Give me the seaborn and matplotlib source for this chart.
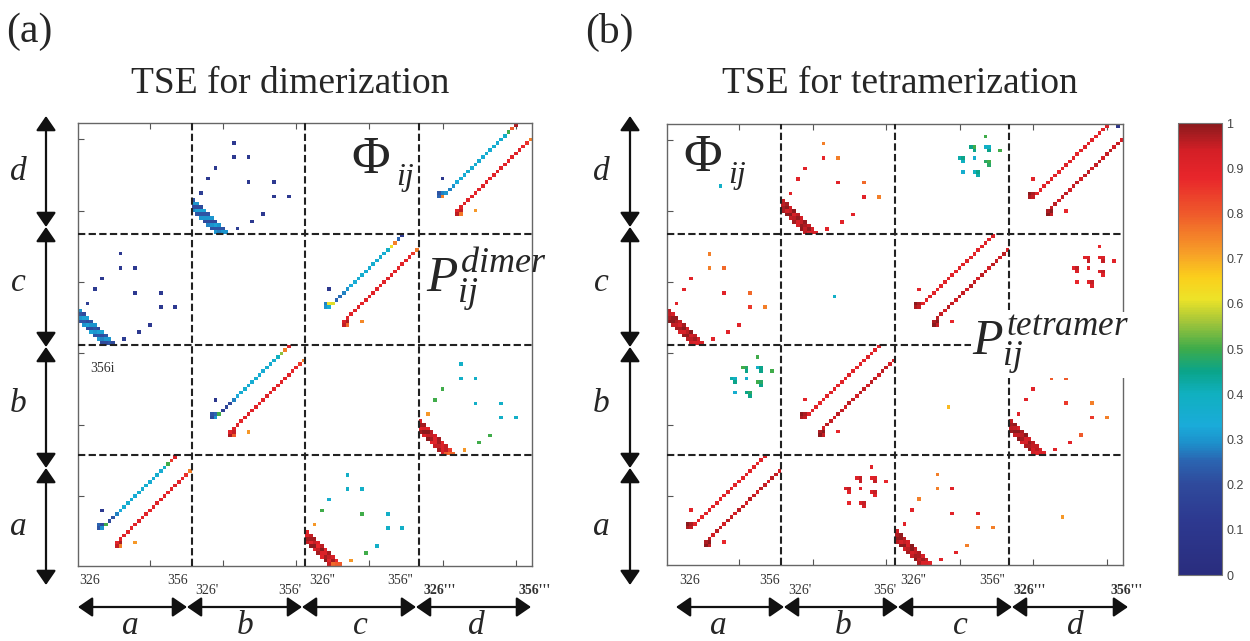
import numpy as np
import matplotlib
matplotlib.use("Agg")
import matplotlib.pyplot as plt
import seaborn as sns
from matplotlib.colors import LinearSegmentedColormap
from matplotlib.patches import FancyArrowPatch

# ---------------------------------------------------------------- data
CHAINS = ["a", "b", "c", "d"]
N_RES = 31                                   # residues 326 ... 356 per chain
AXIS_TICKS = [20, 40, 60, 80, 100, 120]
CBAR_TICKS = [0.0, 0.1, 0.2, 0.3, 0.4, 0.5, 0.6, 0.7, 0.8, 0.9, 1.0]
CBAR_LABELS = ["0", "0.1", "0.2", "0.3", "0.4", "0.5", "0.6", "0.7", "0.8", "0.9", "1"]
RES_LABELS_A = ["326", "356", "326'", "356'", "326''", "356''", "326'''", "356'''"]

# intra-chain helix contacts (local residue numbers 1..31); upper = Phi side
HELIX_UP_I = [6, 7, 6, 7] + list(range(8, 28)) + [7]
HELIX_UP_J = [11, 11, 12, 12] + list(range(12, 32)) + [16]
HELIX_LO_I = HELIX_UP_J
HELIX_LO_J = HELIX_UP_I

# primary-dimer interface: beta staircase + scattered helix contacts
STAIR_I = [1, 2, 3, 4, 5, 6, 7, 1, 2, 3, 4, 5, 6, 7, 8,
           1, 2, 3, 4, 5, 6, 7, 8, 9, 1, 2, 3, 4, 5, 6, 7, 8, 9, 10]
STAIR_J = [7, 6, 5, 4, 3, 2, 1, 8, 7, 6, 5, 4, 3, 2, 1,
           9, 8, 7, 6, 5, 4, 3, 2, 1, 10, 9, 8, 7, 6, 5, 4, 3, 2, 1]
DIMER_DOT_I = [12, 12, 16, 7, 5, 16, 23, 3, 23, 27, 20, 17, 13]
DIMER_DOT_J = [26, 22, 22, 19, 16, 15, 15, 12, 11, 11, 6, 4, 2]

# tetramer interface cluster and single contact
TET_I = [25, 21, 22, 22, 25, 26, 26, 29, 18, 19, 19, 22, 25, 26, 26, 19, 22, 23, 23]
TET_J = [28, 25, 25, 24, 25, 25, 24, 24, 22, 22, 21, 22, 21, 21, 20, 18, 18, 18, 17]
SINGLE_I = [15]
SINGLE_J = [14]
CORNER_I = [30]
CORNER_J = [31]

# ---- panel (a): dimerization
A_UP = {
    "a": [0.22, 0.30, 0.25, 0.20, 0.50, 0.20, 0.22, 0.28, 0.33, 0.35, 0.36, 0.35, 0.34, 0.36,
          0.35, 0.36, 0.35, 0.34, 0.36, 0.35, 0.38, 0.50, 0.85, 0.92, 0.12],
    "b": [0.20, 0.30, 0.22, 0.25, 0.50, 0.15, 0.18, 0.20, 0.28, 0.33, 0.35, 0.36, 0.35, 0.35,
          0.36, 0.35, 0.34, 0.36, 0.35, 0.36, 0.40, 0.55, 0.75, 0.92, 0.10],
    "c": [0.30, 0.35, 0.28, 0.62, 0.60, 0.25, 0.26, 0.28, 0.30, 0.33, 0.34, 0.35, 0.36, 0.35,
          0.35, 0.36, 0.35, 0.36, 0.35, 0.38, 0.62, 0.75, 0.25, 0.12, 0.10],
    "d": [0.25, 0.75, 0.22, 0.28, 0.30, 0.28, 0.30, 0.33, 0.35, 0.34, 0.36, 0.35, 0.36, 0.35,
          0.34, 0.36, 0.35, 0.36, 0.35, 0.36, 0.38, 0.50, 0.80, 0.97, 0.10],
}
A_LO = {
    "a": [0.95, 0.90, 0.75, 0.97, 0.90, 0.91, 0.90, 0.89, 0.90, 0.91, 0.90, 0.90, 0.89, 0.90,
          0.91, 0.90, 0.90, 0.89, 0.90, 0.91, 0.90, 0.88, 0.86, 0.75, 0.72],
    "b": [0.97, 0.90, 0.80, 0.95, 0.91, 0.90, 0.89, 0.90, 0.91, 0.90, 0.90, 0.89, 0.90, 0.91,
          0.90, 0.90, 0.89, 0.90, 0.91, 0.90, 0.89, 0.88, 0.85, 0.75, 0.72],
    "c": [0.95, 0.92, 0.78, 0.97, 0.90, 0.90, 0.91, 0.90, 0.89, 0.90, 0.91, 0.90, 0.90, 0.89,
          0.90, 0.91, 0.90, 0.90, 0.89, 0.90, 0.90, 0.88, 0.85, 0.76, 0.74],
    "d": [0.96, 0.90, 0.76, 0.95, 0.90, 0.91, 0.90, 0.90, 0.89, 0.90, 0.91, 0.90, 0.89, 0.90,
          0.91, 0.90, 0.90, 0.89, 0.90, 0.91, 0.90, 0.88, 0.86, 0.75, 0.72],
}
A_STAIR = {
    ("d", "b"): [0.28, 0.22, 0.30, 0.20, 0.28, 0.22, 0.30, 0.20, 0.32, 0.22, 0.30, 0.20,
                 0.30, 0.22, 0.28, 0.30, 0.20, 0.32, 0.22, 0.30, 0.20, 0.32, 0.22, 0.30,
                 0.22, 0.30, 0.20, 0.32, 0.22, 0.30, 0.20, 0.30, 0.22, 0.30],
    ("c", "a"): [0.22, 0.30, 0.20, 0.32, 0.22, 0.30, 0.20, 0.30, 0.22, 0.32, 0.20, 0.30,
                 0.22, 0.28, 0.20, 0.22, 0.32, 0.20, 0.30, 0.22, 0.32, 0.20, 0.30, 0.22,
                 0.30, 0.20, 0.32, 0.22, 0.30, 0.20, 0.32, 0.22, 0.30, 0.20],
    ("a", "c"): [0.95, 1.00, 0.92, 0.98, 0.90, 1.00, 0.95, 0.98, 0.90, 1.00, 0.95, 0.92,
                 0.98, 0.90, 0.78, 0.92, 0.98, 0.95, 0.88, 1.00, 0.92, 0.95, 0.98, 0.80,
                 0.90, 0.95, 0.98, 0.92, 0.96, 0.90, 0.98, 0.93, 0.88, 0.80],
    ("b", "d"): [0.98, 0.92, 1.00, 0.90, 0.95, 0.98, 0.92, 0.90, 1.00, 0.95, 0.98, 0.90,
                 0.95, 0.92, 0.80, 0.98, 0.92, 1.00, 0.95, 0.90, 0.98, 0.92, 0.95, 0.78,
                 0.92, 0.98, 0.90, 0.96, 0.93, 0.98, 0.90, 0.95, 0.85, 0.78],
}
A_DOTS = {
    ("d", "b"): [0.12, 0.12, 0.12, 0.12, 0.12, 0.12, 0.12, 0.15, 0.12, 0.12, 0.12, 0.12, 0.15],
    ("c", "a"): [0.12, 0.12, 0.12, 0.12, 0.13, 0.12, 0.12, 0.15, 0.12, 0.12, 0.12, 0.12, 0.14],
    ("a", "c"): [0.38, 0.38, 0.38, 0.36, 0.50, 0.50, 0.38, 0.72, 0.38, 0.38, 0.38, 0.50, 0.72],
    ("b", "d"): [0.38, 0.38, 0.38, 0.50, 0.50, 0.38, 0.38, 0.72, 0.38, 0.38, 0.50, 0.50, 0.72],
}

# ---- panel (b): tetramerization
B_UP = {
    "a": [0.97, 0.95, 1.00, 0.97, 0.90, 0.90, 0.89, 0.90, 0.91, 0.90, 0.90, 0.89, 0.90, 0.91,
          0.90, 0.90, 0.89, 0.90, 0.91, 0.90, 0.90, 0.89, 0.90, 0.92, 0.90],
    "b": [0.97, 0.95, 1.00, 0.97, 0.90, 0.91, 0.90, 0.89, 0.90, 0.90, 0.91, 0.90, 0.89, 0.90,
          0.90, 0.91, 0.90, 0.89, 0.90, 0.90, 0.91, 0.90, 0.90, 0.92, 0.90],
    "c": [0.97, 0.95, 1.00, 0.97, 0.90, 0.90, 0.91, 0.90, 0.89, 0.90, 0.90, 0.91, 0.90, 0.89,
          0.90, 0.90, 0.91, 0.90, 0.89, 0.90, 0.90, 0.91, 0.90, 0.92, 0.90],
    "d": [0.97, 0.95, 1.00, 0.97, 0.90, 0.89, 0.90, 0.91, 0.90, 0.90, 0.89, 0.90, 0.91, 0.90,
          0.90, 0.89, 0.90, 0.91, 0.90, 0.90, 0.89, 0.90, 0.91, 0.92, 0.90],
}
B_LO = {
    "a": [1.00, 0.97, 0.95, 1.00, 0.95, 0.94, 0.96, 0.95, 0.94, 0.96, 0.95, 0.94, 0.96, 0.95,
          0.94, 0.96, 0.95, 0.94, 0.96, 0.95, 0.94, 0.96, 0.95, 0.93, 0.88],
    "b": [1.00, 0.97, 0.95, 1.00, 0.94, 0.96, 0.95, 0.94, 0.96, 0.95, 0.94, 0.96, 0.95, 0.94,
          0.96, 0.95, 0.94, 0.96, 0.95, 0.94, 0.96, 0.95, 0.94, 0.93, 0.88],
    "c": [1.00, 0.97, 0.95, 1.00, 0.96, 0.95, 0.94, 0.96, 0.95, 0.94, 0.96, 0.95, 0.94, 0.96,
          0.95, 0.94, 0.96, 0.95, 0.94, 0.96, 0.95, 0.94, 0.96, 0.93, 0.88],
    "d": [1.00, 0.97, 0.95, 1.00, 0.95, 0.96, 0.94, 0.95, 0.96, 0.94, 0.95, 0.96, 0.94, 0.95,
          0.96, 0.94, 0.95, 0.96, 0.94, 0.95, 0.96, 0.94, 0.95, 0.93, 0.88],
}
B_STAIR = {
    ("d", "b"): [0.97, 1.00, 0.95, 0.98, 0.93, 1.00, 0.96, 0.98, 0.94, 1.00, 0.96, 0.93,
                 0.99, 0.95, 0.92, 0.96, 1.00, 0.95, 0.93, 0.99, 0.95, 0.97, 0.99, 0.93,
                 0.95, 0.98, 0.93, 1.00, 0.96, 0.94, 0.99, 0.95, 0.93, 0.92],
    ("c", "a"): [1.00, 0.95, 0.98, 0.93, 0.99, 0.96, 0.94, 0.97, 1.00, 0.95, 0.98, 0.93,
                 0.99, 0.96, 0.92, 0.95, 0.99, 0.97, 0.93, 1.00, 0.96, 0.94, 0.98, 0.92,
                 0.96, 0.93, 0.99, 0.95, 0.98, 0.93, 1.00, 0.95, 0.94, 0.92],
    ("a", "c"): [0.96, 1.00, 0.94, 0.98, 0.95, 1.00, 0.97, 0.99, 0.93, 1.00, 0.96, 0.94,
                 0.98, 0.95, 0.92, 0.97, 0.99, 0.95, 0.93, 1.00, 0.95, 0.97, 0.98, 0.92,
                 0.94, 0.99, 0.96, 0.93, 1.00, 0.95, 0.97, 0.93, 0.95, 0.90],
    ("b", "d"): [0.99, 0.95, 1.00, 0.93, 0.97, 0.99, 0.94, 0.96, 1.00, 0.95, 0.98, 0.93,
                 0.97, 0.94, 0.92, 0.98, 0.95, 1.00, 0.96, 0.93, 0.99, 0.95, 0.96, 0.92,
                 0.95, 0.99, 0.93, 0.97, 1.00, 0.94, 0.96, 0.95, 0.93, 0.90],
}
B_DOTS = {
    ("d", "b"): [0.75, 0.88, 0.75, 0.90, 0.90, 0.90, 0.78, 0.90, 0.90, 0.75, 0.90, 0.90, 0.90],
    ("c", "a"): [0.75, 0.75, 0.78, 0.90, 0.90, 0.90, 0.78, 0.90, 0.85, 0.75, 0.90, 0.90, 0.90],
    ("a", "c"): [0.75, 0.75, 0.90, 0.75, 0.90, 0.90, 0.90, 0.90, 0.75, 0.75, 0.75, 0.90, 0.90],
    ("b", "d"): [0.75, 0.80, 0.80, 0.90, 0.90, 0.85, 0.75, 0.90, 0.85, 0.75, 0.80, 0.90, 0.90],
}
B_TET = {
    ("d", "c"): [0.50, 0.45, 0.50, 0.45, 0.38, 0.40, 0.45, 0.50, 0.42, 0.45, 0.40, 0.36,
                 0.48, 0.50, 0.48, 0.36, 0.40, 0.45, 0.42],
    ("b", "a"): [0.50, 0.50, 0.48, 0.45, 0.38, 0.45, 0.45, 0.50, 0.42, 0.40, 0.45, 0.36,
                 0.50, 0.48, 0.45, 0.36, 0.45, 0.48, 0.45],
    ("c", "d"): [0.88, 0.90, 0.92, 0.95, 0.90, 0.92, 0.95, 0.90, 0.90, 0.95, 0.92, 0.90,
                 0.92, 0.95, 0.90, 0.88, 0.90, 0.95, 0.92],
    ("a", "b"): [0.90, 0.92, 0.95, 0.95, 0.90, 0.92, 0.95, 0.88, 0.92, 0.95, 0.90, 0.90,
                 0.92, 0.95, 0.90, 0.88, 0.92, 0.95, 0.93],
}
B_SINGLE = {("c", "b"): [0.38], ("b", "c"): [0.68], ("a", "d"): [0.72], ("d", "a"): [0.38]}
B_CORNER = {("d", "d"): [0.08]}

# ---------------------------------------------------------------- style
sns.set_style("white")
plt.rcParams["font.family"] = ["Liberation Serif", "DejaVu Serif"]
plt.rcParams["mathtext.fontset"] = "custom"
plt.rcParams["mathtext.rm"] = "Liberation Serif"
plt.rcParams["mathtext.it"] = "Liberation Serif:italic"
plt.rcParams["mathtext.bf"] = "Liberation Serif:bold"

cmap = LinearSegmentedColormap.from_list("tse", [
    (0.00, "#2a2d7e"), (0.12, "#2d3990"), (0.20, "#2f4a9c"), (0.25, "#2b63b0"),
    (0.29, "#1d8fcb"), (0.33, "#1aabd9"), (0.40, "#10b0c0"), (0.45, "#0aa48a"),
    (0.50, "#3dab4b"), (0.56, "#a2c53a"), (0.61, "#ece328"), (0.66, "#fbcf1c"),
    (0.71, "#f7a127"), (0.80, "#ef5a2b"), (0.88, "#e8262b"), (0.94, "#d41f26"),
    (1.00, "#8b1a1d")])

W, H = 1250, 641
fig = plt.figure(figsize=(W / 100, H / 100), dpi=100)


def fx(x):
    return x / W


def fy(y):
    return 1 - y / H


def build(entries):
    M = np.full((4 * N_RES, 4 * N_RES), np.nan)
    for (row, col), I, J, V in entries:
        r, c = CHAINS.index(row), CHAINS.index(col)
        for i, j, v in zip(I, J, V):
            M[r * N_RES + j - 1, c * N_RES + i - 1] = v
    return M


entries_a, entries_b = [], []
for ch in CHAINS:
    entries_a += [((ch, ch), HELIX_UP_I, HELIX_UP_J, A_UP[ch]), ((ch, ch), HELIX_LO_I, HELIX_LO_J, A_LO[ch])]
    entries_b += [((ch, ch), HELIX_UP_I, HELIX_UP_J, B_UP[ch]), ((ch, ch), HELIX_LO_I, HELIX_LO_J, B_LO[ch])]
for k in A_STAIR:
    entries_a += [(k, STAIR_I, STAIR_J, A_STAIR[k]), (k, DIMER_DOT_I, DIMER_DOT_J, A_DOTS[k])]
for k in B_STAIR:
    entries_b += [(k, STAIR_I, STAIR_J, B_STAIR[k]), (k, DIMER_DOT_I, DIMER_DOT_J, B_DOTS[k])]
for k in B_TET:
    entries_b.append((k, TET_I, TET_J, B_TET[k]))
for k in B_SINGLE:
    entries_b.append((k, SINGLE_I, SINGLE_J, B_SINGLE[k]))
for k in B_CORNER:
    entries_b.append((k, CORNER_I, CORNER_J, B_CORNER[k]))

M_a = build(entries_a)
M_b = build(entries_b)

axA = fig.add_axes([fx(78.3), fy(565.7), 454 / W, 442.4 / H])
axB = fig.add_axes([fx(667.3), fy(565), 456 / W, 441 / H])
cax = fig.add_axes([fx(1178), fy(575), 44 / W, 452 / H])


def draw_panel(ax, M):
    sns.heatmap(M, ax=ax, cmap=cmap, vmin=0, vmax=1, cbar=False,
                xticklabels=False, yticklabels=False, mask=np.isnan(M))
    n = 4 * N_RES
    ax.set_xlim(0, n)
    ax.set_ylim(0, n)
    for s in ax.spines.values():
        s.set_visible(True)
        s.set_color("#666666")
        s.set_linewidth(1.0)
    ticks = [t - 0.5 for t in AXIS_TICKS]
    ax.set_xticks(ticks)
    ax.set_yticks(ticks)
    ax.tick_params(direction="in", length=4, width=0.8, color="#555555", top=True,
                   bottom=True, left=True, right=False, labelbottom=False, labelleft=False)
    for k in range(1, 4):
        ax.axvline(k * N_RES, color="#222222", lw=1.5, ls=(0, (3.5, 1.6)), zorder=3)
        ax.axhline(k * N_RES, color="#222222", lw=1.5, ls=(0, (3.5, 1.6)), zorder=3)


draw_panel(axA, M_a)
draw_panel(axB, M_b)

cb = fig.colorbar(axA.collections[0], cax=cax, ticks=CBAR_TICKS)
cb.ax.set_yticklabels(CBAR_LABELS, fontfamily="Liberation Sans", fontsize=9, color="#444444")
cb.outline.set_edgecolor("#777777")
cb.outline.set_linewidth(0.8)
cax.tick_params(direction="in", length=3, width=0.6, color="#555555", left=True, right=True, pad=3)


def double_arrow(x0, y0, x1, y1):
    fig.patches.append(FancyArrowPatch(
        (fx(x0), fy(y0)), (fx(x1), fy(y1)), transform=fig.transFigure,
        arrowstyle="<|-|>,head_length=0.8,head_width=0.55", mutation_scale=11,
        lw=1.6, color="#111111", shrinkA=0, shrinkB=0))


V_BOUNDS = [116, 227, 347, 468, 585]
V_LABEL_Y = [172, 283, 404, 527]
for xa, xl in [(46, 18), (630, 601)]:
    for k in range(4):
        double_arrow(xa, V_BOUNDS[k], xa, V_BOUNDS[k + 1])
    for lab, y in zip(["d", "c", "b", "a"], V_LABEL_Y):
        fig.text(fx(xl), fy(y), lab, fontsize=24, style="italic", ha="center", va="center")

for bounds, labx in [([78, 187, 302, 416, 531], [130, 245, 360, 476]),
                     ([676, 784, 898, 1012, 1128], [718, 843, 960, 1075])]:
    for k in range(4):
        double_arrow(bounds[k], 607, bounds[k + 1], 607)
    for lab, x in zip(CHAINS, labx):
        fig.text(fx(x), fy(626), lab, fontsize=24, style="italic", ha="center", va="center")

for xs in ([90, 178, 207, 290, 322, 400, 440, 535], [690, 770, 800, 885, 913, 992, 1030, 1127]):
    for k, (lab, x) in enumerate(zip(RES_LABELS_A, xs)):
        y = 580 if k in (0, 1, 4, 5) else 591
        fig.text(fx(x), fy(y), lab, fontsize=10, ha="center", va="center", color="#333333",
                 fontweight="bold" if k >= 6 else "normal")

fig.text(fx(6), fy(32), "(a)", fontsize=30, ha="left", va="center")
fig.text(fx(585), fy(32), "(b)", fontsize=30, ha="left", va="center")
fig.text(fx(290), fy(84), "TSE for dimerization", fontsize=27, ha="center", va="center")
fig.text(fx(900), fy(84), "TSE for tetramerization", fontsize=27, ha="center", va="center")

# Phi_ij labels (symbol and subscript set separately, subscript sits low)
fig.text(fx(351), fy(173), "\u03A6", fontsize=38, ha="left", va="baseline")
fig.text(fx(396), fy(185), "ij", fontsize=23, style="italic", ha="left", va="baseline")
fig.text(fx(683), fy(171), "\u03A6", fontsize=38, ha="left", va="baseline")
fig.text(fx(728), fy(183), "ij", fontsize=23, style="italic", ha="left", va="baseline")

fig.text(fx(426), fy(292), r"$P_{ij}^{dimer}$", fontsize=37, ha="left", va="baseline")
fig.text(fx(972), fy(355), r"$P_{ij}^{tetramer}$", fontsize=36, ha="left", va="baseline",
         bbox=dict(facecolor="white", edgecolor="none", pad=1))
fig.text(fx(90), fy(368), "356i", fontsize=10, ha="left", va="center", color="#333333")

fig.savefig("out.png", dpi=100)
